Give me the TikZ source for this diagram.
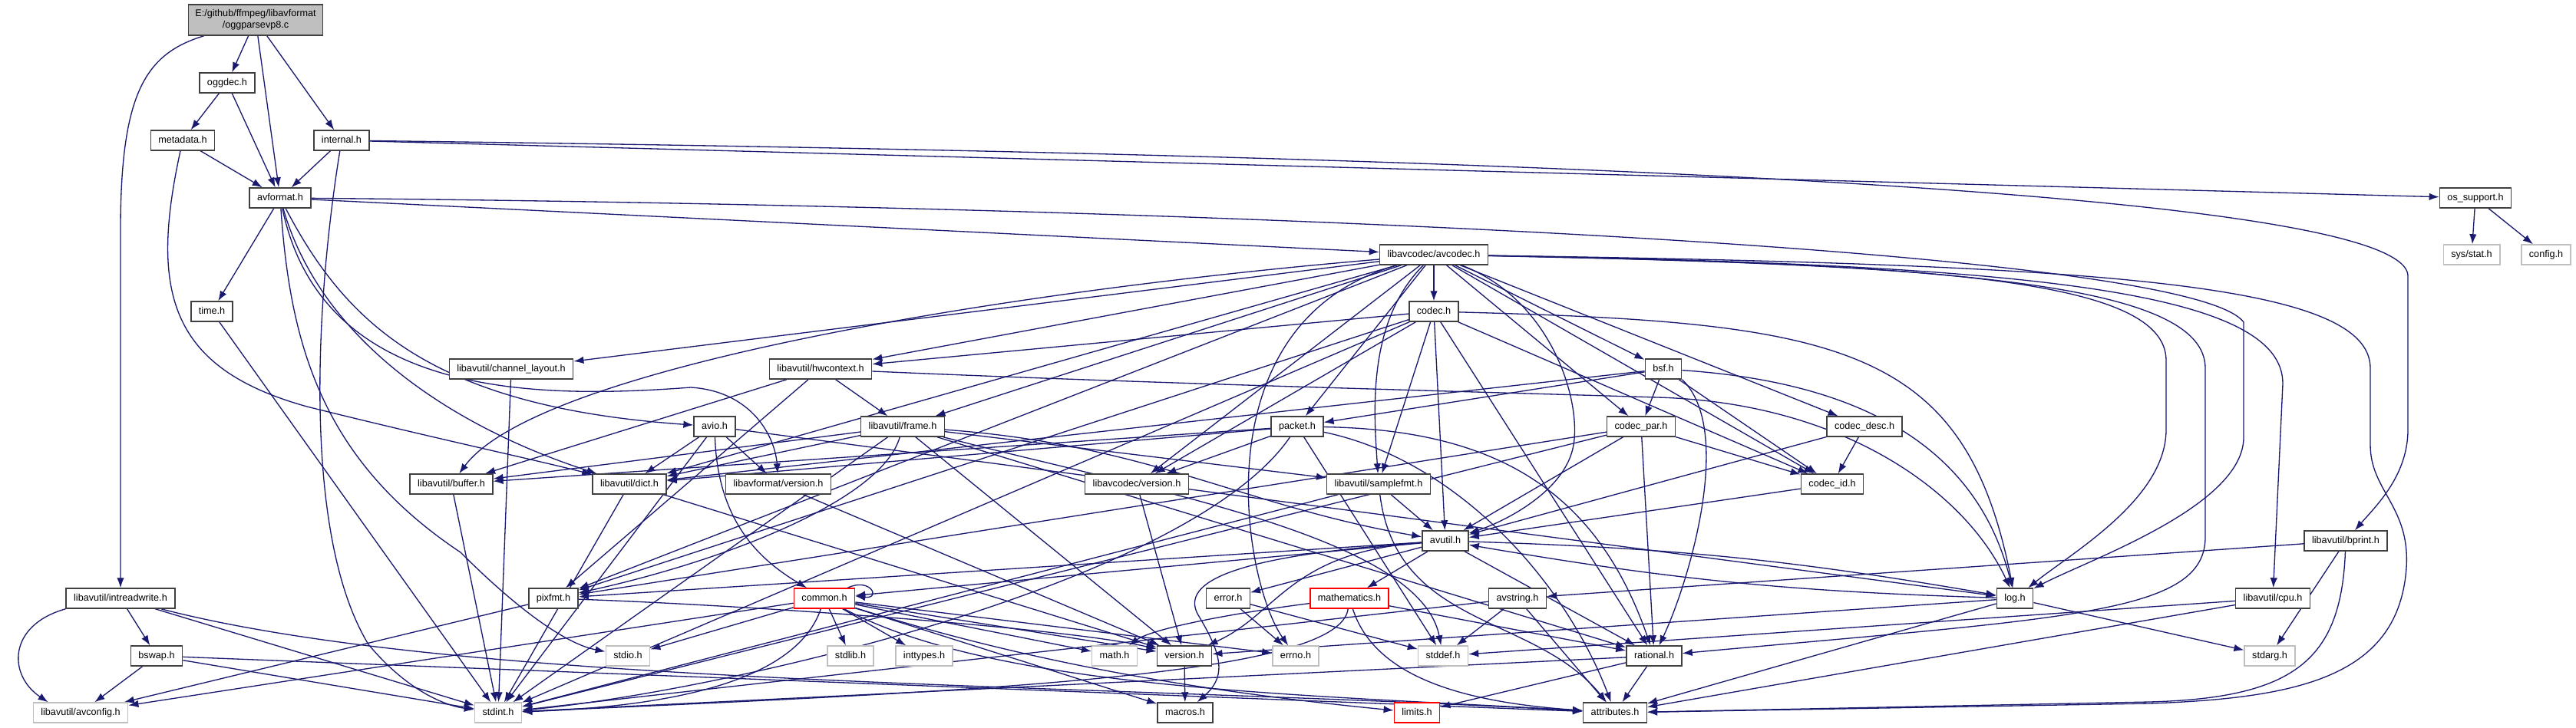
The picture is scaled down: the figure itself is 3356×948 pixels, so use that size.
\documentclass[tikz,border=0pt]{standalone}
\usepackage{fontspec}
\setmainfont{Liberation Sans}
\usepackage{xcolor}
\usetikzlibrary{arrows.meta}
\definecolor{edgeBlue}{HTML}{191970}
\definecolor{sysGray}{HTML}{BFBFBF}
\definecolor{boxGray}{HTML}{404040}
\definecolor{cutRed}{HTML}{FF0000}
\pgfdeclarelayer{back}
\pgfsetlayers{back,main}

\begin{document}
\begin{tikzpicture}[x=0.02cm,y=-0.02cm,
    file/.style={draw=boxGray,line width=0.85pt,fill=white,inner xsep=0.2cm,inner ysep=0pt,
      minimum height=0.52cm,text height=5.2pt,text depth=1.5pt,
      font=\fontsize{7.2}{8.5}\selectfont},
    sysfile/.style={file,draw=sysGray},
    cutfile/.style={file,draw=cutRed},
    mainfile/.style={draw=boxGray,line width=0.85pt,fill=sysGray,align=center,
      inner xsep=0.18cm,minimum height=0.8cm,font=\fontsize{7.2}{8.5}\selectfont},
    dep/.style={draw=edgeBlue,line width=0.75pt,-{Latex[length=0.26cm,width=0.19cm]}}]
  \useasboundingbox (0,0) rectangle (3356,948);
  % files, row by row
  \node[mainfile] (top) at (333,26) {E:/github/ffmpeg/libavformat\\/oggparsevp8.c};
  \node[file] (oggdec) at (296,108) {oggdec.h};
  \node[file] (metadata) at (238,183) {metadata.h};
  \node[file] (internal) at (445,183) {internal.h};
  \node[file] (avformat) at (365,258) {avformat.h};
  \node[file] (ossupport) at (3225,258) {os\_support.h};
  \node[sysfile] (sysstat) at (3220,332) {sys/stat.h};
  \node[sysfile] (config) at (3317,332) {config.h};
  \node[file] (avcodec) at (1868,332) {libavcodec/avcodec.h};
  \node[file] (timeh) at (276,406) {time.h};
  \node[file] (codec) at (1868,406) {codec.h};
  \node[file] (chlayout) at (666,481) {libavutil/channel\_layout.h};
  \node[file] (hwctx) at (1069,481) {libavutil/hwcontext.h};
  \node[file] (bsf) at (2167,481) {bsf.h};
  \node[file] (avio) at (931,556) {avio.h};
  \node[file] (frame) at (1176,556) {libavutil/frame.h};
  \node[file] (packet) at (1690,556) {packet.h};
  \node[file] (codecpar) at (2138,556) {codec\_par.h};
  \node[file] (codecdesc) at (2429,556) {codec\_desc.h};
  \node[file] (buffer) at (588,631) {libavutil/buffer.h};
  \node[file] (dict) at (820,631) {libavutil/dict.h};
  \node[file] (lavfver) at (1014,631) {libavformat/version.h};
  \node[file] (lavcver) at (1481,631) {libavcodec/version.h};
  \node[file] (samplefmt) at (1796,631) {libavutil/samplefmt.h};
  \node[file] (codecid) at (2387,631) {codec\_id.h};
  \node[file] (avutil) at (1883,705) {avutil.h};
  \node[file] (bprint) at (3056,705) {libavutil/bprint.h};
  \node[file] (intrw) at (157,780) {libavutil/intreadwrite.h};
  \node[file] (pixfmt) at (721,780) {pixfmt.h};
  \node[cutfile] (common) at (1074,780) {common.h};
  \node[file] (error) at (1600,780) {error.h};
  \node[cutfile] (mathematics) at (1758,780) {mathematics.h};
  \node[file] (avstring) at (1977,780) {avstring.h};
  \node[file] (log) at (2625,780) {log.h};
  \node[file] (cpu) at (2961,780) {libavutil/cpu.h};
  \node[file] (bswap) at (204,855) {bswap.h};
  \node[sysfile] (stdio) at (818,855) {stdio.h};
  \node[sysfile] (stdlib) at (1108,855) {stdlib.h};
  \node[sysfile] (inttypes) at (1204,855) {inttypes.h};
  \node[sysfile] (mathh) at (1452,855) {math.h};
  \node[file] (version) at (1543,855) {version.h};
  \node[sysfile] (errno) at (1688,855) {errno.h};
  \node[sysfile] (stddef) at (1880,855) {stddef.h};
  \node[file] (rational) at (2155,855) {rational.h};
  \node[sysfile] (stdarg) at (2957,855) {stdarg.h};
  \node[sysfile] (avconfig) at (105,929) {libavutil/avconfig.h};
  \node[sysfile] (stdint) at (649,929) {stdint.h};
  \node[file] (macros) at (1544,929) {macros.h};
  \node[cutfile] (limits) at (1846,929) {limits.h};
  \node[file] (attributes) at (2104,929) {attributes.h};

  \begin{pgfonlayer}{back}
    \fill[white] (0,0) rectangle (3356,948);
    % straight includes
    \foreach \src/\dst in {top/oggdec,top/avformat,top/internal,
        oggdec/metadata,oggdec/avformat,metadata/avformat,
        internal/avformat,internal/ossupport,ossupport/sysstat,ossupport/config,
        avformat/avcodec,avformat/timeh,timeh/stdint,chlayout/stdint,
        buffer/stdint,dict/stdint,dict/version,lavfver/version,lavcver/version,
        codecid/avutil,version/macros,pixfmt/avconfig,mathematics/rational}
      \draw[dep] (\src) -- (\dst);
    \foreach \dst in {chlayout,dict,frame,hwctx,pixfmt,bsf,codec,codecdesc,codecpar,codecid,packet,lavcver}
      \draw[dep] (avcodec) -- (\dst);
    \foreach \dst in {stdint,avutil,hwctx,pixfmt,rational,samplefmt,codecid,lavcver}
      \draw[dep] (codec) -- (\dst);
    \foreach \dst in {buffer,frame,pixfmt}
      \draw[dep] (hwctx) -- (\dst);
    \foreach \dst in {dict,codecid,codecpar,packet}
      \draw[dep] (bsf) -- (\dst);
    \foreach \dst in {stdint,dict,lavfver,log}
      \draw[dep] (avio) -- (\dst);
    \foreach \dst in {stdint,buffer,dict,rational,samplefmt,version}
      \draw[dep] (frame) -- (\dst);
    \foreach \dst in {stddef,buffer,dict,lavcver}
      \draw[dep] (packet) -- (\dst);
    \foreach \dst in {stdint,avutil,rational,pixfmt,codecid}
      \draw[dep] (codecpar) -- (\dst);
    \foreach \dst in {avutil,codecid}
      \draw[dep] (codecdesc) -- (\dst);
    \foreach \dst in {stdint,avutil}
      \draw[dep] (samplefmt) -- (\dst);
    \foreach \dst in {common,error,mathematics,rational,pixfmt}
      \draw[dep] (avutil) -- (\dst);
    \foreach \dst in {stdarg,avstring}
      \draw[dep] (bprint) -- (\dst);
    \foreach \dst in {stdint,bswap}
      \draw[dep] (intrw) -- (\dst);
    \foreach \dst in {errno,inttypes,mathh,stdio,stdlib,macros,version,avconfig}
      \draw[dep] (common) -- (\dst);
    \foreach \dst in {errno,stddef}
      \draw[dep] (error) -- (\dst);
    \foreach \dst in {stddef,stdint,attributes}
      \draw[dep] (avstring) -- (\dst);
    \foreach \dst in {stdarg,attributes,version}
      \draw[dep] (log) -- (\dst);
    \foreach \dst in {stddef,attributes}
      \draw[dep] (cpu) -- (\dst);
    \foreach \dst in {stdint,avconfig,attributes}
      \draw[dep] (bswap) -- (\dst);
    \foreach \dst in {stdint,limits,attributes}
      \draw[dep] (rational) -- (\dst);
    % routed includes
    \draw[dep] (top) .. controls (190,70) and (157,120) .. (157,300) -- (intrw);
    \draw[dep] (internal) .. controls (410,400) and (395,700) .. (480,840) .. controls (530,900) and (580,920) .. (stdint);
    \draw[dep] (internal) .. controls (1800,200) and (3137,240) .. (3137,360) -- (3137,560) .. controls (3137,620) and (3095,660) .. (bprint);
    \draw[dep] (metadata) .. controls (195,380) and (220,480) .. (400,530) .. controls (560,570) and (700,600) .. (dict);
    \draw[dep] (avformat) .. controls (378,450) and (420,600) .. (600,720) .. controls (680,800) and (740,840) .. (stdio);
    \draw[dep] (avformat) .. controls (420,450) and (600,560) .. (dict);
    \draw[dep] (avformat) .. controls (450,420) and (560,530) .. (avio);
    \draw[dep] (avformat) .. controls (420,520) and (700,520) .. (900,505) .. controls (980,510) and (1010,570) .. (lavfver);
    \draw[dep] (avformat) .. controls (1500,268) and (2850,320) .. (2923,420) -- (2923,570) .. controls (2923,660) and (2720,730) .. (log);
    \draw[dep] (avcodec) .. controls (2500,345) and (2822,360) .. (2822,470) -- (2822,560) .. controls (2822,650) and (2700,720) .. (log);
    \draw[dep] (avcodec) .. controls (2550,345) and (2873,370) .. (2873,480) -- (2873,700) .. controls (2873,800) and (2700,805) .. (rational);
    \draw[dep] (avcodec) .. controls (2650,345) and (2974,380) .. (2974,500) -- (cpu);
    \draw[dep] (avcodec) .. controls (2750,345) and (3088,370) .. (3088,480) -- (3088,580) .. controls (3088,640) and (3140,660) .. (3135,740) .. controls (3125,880) and (3000,910) .. (2800,917) -- (attributes);
    \draw[dep] (avcodec) .. controls (1780,420) and (1790,540) .. (samplefmt);
    \draw[dep] (avcodec) .. controls (2020,390) and (2060,520) .. (2050,580) .. controls (2040,640) and (1960,680) .. (avutil);
    \draw[dep] (avcodec) .. controls (1560,420) and (1620,760) .. (errno);
    \draw[dep] (avcodec) .. controls (1300,380) and (700,480) .. (buffer);
    \draw[dep] (codec) .. controls (2400,420) and (2560,450) .. (log);
    \draw[dep] (hwctx) .. controls (1500,500) and (1900,510) .. (2160,518) .. controls (2400,525) and (2560,640) .. (log);
    \draw[dep] (bsf) .. controls (2450,500) and (2580,600) .. (log);
    \draw[dep] (bsf.south east) .. controls (2260,560) and (2200,760) .. (rational);
    \draw[dep] (avio) .. controls (935,680) and (990,730) .. (common);
    \draw[dep] (frame) .. controls (1500,640) and (1850,700) .. (stddef);
    \draw[dep] (frame) .. controls (1500,580) and (1620,660) .. (avutil);
    \draw[dep] (frame) .. controls (1150,650) and (950,730) .. (pixfmt);
    \draw[dep] (packet) .. controls (1550,760) and (950,900) .. (stdint);
    \draw[dep] (packet) .. controls (1950,560) and (2080,640) .. (rational);
    \draw[dep] (packet) .. controls (1900,600) and (2040,760) .. (attributes);
    \draw[dep] (samplefmt) .. controls (1820,820) and (2000,800) .. (attributes);
    \draw[dep] (avutil) .. controls (1680,720) and (1665,800) .. (version);
    \draw[dep] (avutil) .. controls (1600,725) and (1540,760) .. (1560,800) .. controls (1590,850) and (1600,880) .. (macros);
    \draw[dep] (avutil) to[bend left=4] (log);
    \draw[dep] (log) to[bend left=4] (avutil);
    \draw[dep] (bprint) .. controls (3050,860) and (2990,910) .. (2800,915) -- (attributes);
    \draw[dep] (intrw.south west) .. controls (10,815) and (10,880) .. ([xshift=0.4cm]avconfig.north west);
    \draw[dep] (intrw) .. controls (600,895) and (1400,890) .. (attributes);
    \draw[dep] (pixfmt) .. controls (1000,790) and (1400,820) .. (version);
    \draw[dep] (common) .. controls (1300,850) and (1500,895) .. (limits);
    \draw[dep] (common) .. controls (1040,880) and (900,920) .. (stdint);
    \draw[dep] (common) .. controls (1300,900) and (1700,905) .. (attributes);
    \draw[dep] ([xshift=-0.2cm]common.north east) .. controls +(30,-14) and +(34,4) .. ([yshift=0.06cm]common.east);
    \draw[dep] (mathematics) .. controls (1745,880) and (1300,900) .. (stdint);
    \draw[dep] (mathematics) .. controls (1790,880) and (1900,915) .. (attributes);
    \draw[dep] (mathematics) .. controls (1600,800) and (1500,820) .. (mathh);
  \end{pgfonlayer}
\end{tikzpicture}
\end{document}
